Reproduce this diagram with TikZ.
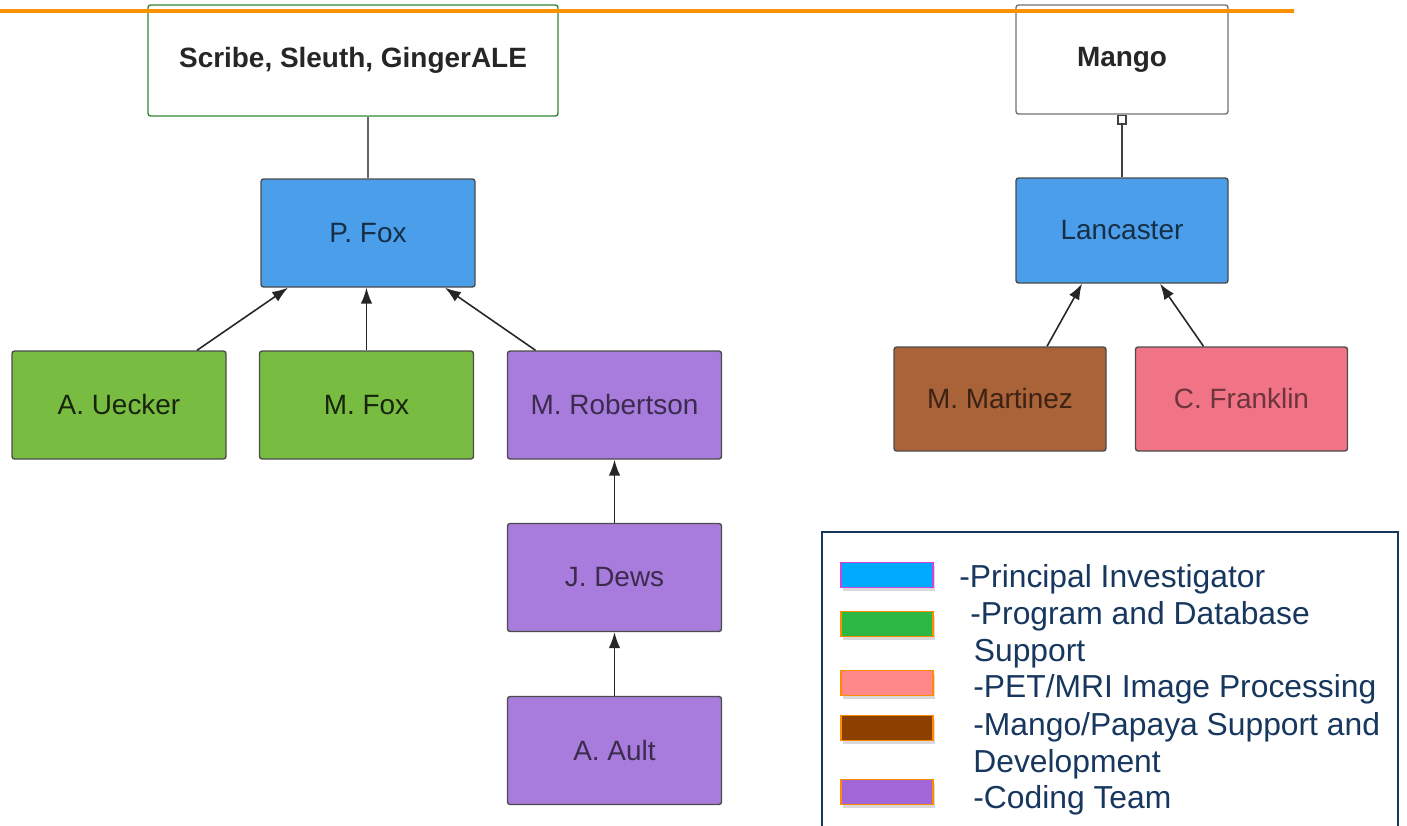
\documentclass[tikz,border=0pt]{standalone}
\usepackage{fontspec}
\setmainfont{Liberation Sans}
\usetikzlibrary{arrows.meta,shadows}

\definecolor{piblue}{RGB}{74,158,234}
\definecolor{devgreen}{RGB}{120,188,66}
\definecolor{codepurple}{RGB}{168,124,220}
\definecolor{mangobrown}{RGB}{170,98,56}
\definecolor{petpink}{RGB}{240,116,134}
\definecolor{legendnavy}{RGB}{23,55,94}
\definecolor{slideorange}{RGB}{250,145,0}
% legend key colours
\definecolor{keyblue}{RGB}{0,170,255}
\definecolor{keymagenta}{RGB}{204,68,221}
\definecolor{keygreen}{RGB}{45,184,67}
\definecolor{keypink}{RGB}{255,136,136}
\definecolor{keybrown}{RGB}{139,64,0}
\definecolor{keypurple}{RGB}{163,102,214}
\definecolor{keyorange}{RGB}{255,140,0}

\tikzset{
  member/.style={draw=black!70, line width=0.8pt, rounded corners=1.5pt,
    minimum width=4.28cm, minimum height=2.16cm,
    font=\fontsize{15.9}{19}\selectfont},
  pi/.style={member, fill=piblue, text=piblue!30!black},
  dev/.style={member, fill=devgreen, text=devgreen!20!black},
  coder/.style={member, fill=codepurple, text=codepurple!35!black},
  mangodev/.style={member, fill=mangobrown, text=mangobrown!35!black},
  pet/.style={member, fill=petpink, text=petpink!45!black},
  project/.style={member, fill=white, text=black!85,
    font=\fontsize{15.9}{19}\selectfont\bfseries},
  link/.style={-{Latex[length=9pt,width=6.5pt]}, black!85, line width=0.9pt},
  swatch/.style={minimum width=1.84cm, minimum height=0.5cm, line width=1pt,
    drop shadow={shadow xshift=1pt, shadow yshift=-2pt, opacity=0.3}},
  legendtext/.style={anchor=north west, align=left, inner sep=0pt,
    text=legendnavy, font=\fontsize{18.1}{21}\selectfont},
}

\begin{document}
\begin{tikzpicture}[scale=1]
  \useasboundingbox (0,0) rectangle (28.14,-16.5);

  % left tree
  \node[project, minimum width=8.2cm, minimum height=2.22cm, draw=black!45!green!60!gray] (scribe) at (7.06,-1.21) {Scribe, Sleuth, GingerALE};
  \node[pi] (pfox) at (7.36,-4.66) {P. Fox};
  \node[dev] (uecker) at (2.38,-8.1) {A. Uecker};
  \node[dev] (mfox) at (7.33,-8.1) {M. Fox};
  \node[coder] (robertson) at (12.29,-8.1) {M. Robertson};
  \node[coder] (dews) at (12.29,-11.55) {J. Dews};
  \node[coder] (ault) at (12.29,-15.01) {A. Ault};

  % right tree
  \node[project, minimum width=4.24cm, minimum height=2.18cm, draw=black!55] (mango) at (22.44,-1.19) {Mango};
  \node[pi, minimum width=4.24cm, minimum height=2.1cm] (lancaster) at (22.44,-4.61) {Lancaster};
  \node[mangodev, minimum width=4.24cm, minimum height=2.08cm] (martinez) at (20.0,-7.98) {M. Martinez};
  \node[pet, minimum width=4.24cm, minimum height=2.08cm] (franklin) at (24.83,-7.98) {C. Franklin};

  % links
  \draw[black!60, line width=0.8pt] (pfox.north |- scribe.south) -- (pfox.north);
  \draw[link] ([xshift=1.56cm]uecker.north) -- ([xshift=-1.6cm]pfox.south);
  \draw[link] (mfox.north) -- (mfox.north |- pfox.south);
  \draw[link] ([xshift=-1.58cm]robertson.north) -- ([xshift=1.54cm]pfox.south);
  \draw[link] (dews) -- (robertson);
  \draw[link] (ault) -- (dews);
  \draw[{Square[open,length=0.2cm,width=0.2cm]}-, black!75, line width=0.9pt] (mango) -- (lancaster);
  \draw[link] ([xshift=0.94cm]martinez.north) -- ([xshift=-0.8cm]lancaster.south);
  \draw[link] ([xshift=-0.76cm]franklin.north) -- ([xshift=0.76cm]lancaster.south);

  % orange rule over the top
  \draw[slideorange, line width=2.3pt] (0,-0.22) -- (25.88,-0.22);

  % legend
  \draw[legendnavy, line width=1.2pt] (16.44,-17) -- (16.44,-10.64) -- (27.96,-10.64) -- (27.96,-17);
  \node[swatch, fill=keyblue, draw=keymagenta] (kpi) at (17.74,-11.5) {};
  \node[swatch, fill=keygreen, draw=keyorange] (kdev) at (17.74,-12.48) {};
  \node[swatch, fill=keypink, draw=keyorange] (kpet) at (17.74,-13.66) {};
  \node[swatch, fill=keybrown, draw=keyorange] (kmango) at (17.74,-14.56) {};
  \node[swatch, fill=keypurple, draw=keyorange] (kcode) at (17.74,-15.84) {};
  \node[legendtext] (tpi) at (19.18,-11.28) {-Principal Investigator};
  \node[legendtext] (tdev) at (19.4,-12.02) {-Program and Database\\\hspace*{2pt}Support};
  \node[legendtext] (tpet) at (19.46,-13.48) {-PET/MRI Image Processing};
  \node[legendtext] (tmango) at (19.46,-14.24) {-Mango/Papaya Support and\\Development};
  \node[legendtext] (tcode) at (19.46,-15.7) {-Coding Team};
\end{tikzpicture}
\end{document}
